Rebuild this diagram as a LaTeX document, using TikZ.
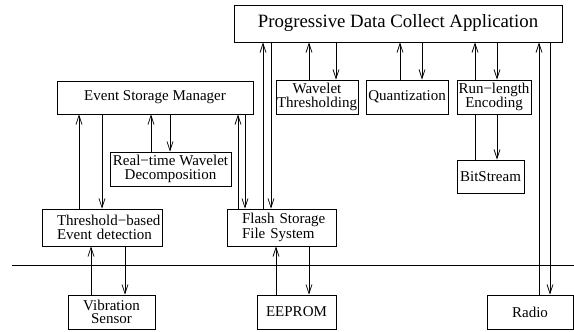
\documentclass[tikz,border=0pt]{standalone}
\usepackage{fontspec}
\setmainfont{Liberation Serif}
\usetikzlibrary{arrows.meta}
\begin{document}
\begin{tikzpicture}[x=1pt,y=-1pt,
  line width=0.75pt,
  >={Straight Barb[length=9pt,width=6pt]},
  arr/.style={->},
  box/.style={draw, rectangle, inner sep=0pt, align=center,
    font={\fontsize{15pt}{13.5pt}\selectfont}},
  lbox/.style={box, align=left, inner xsep=15pt},
  titlebox/.style={box, font={\fontsize{18.8pt}{20pt}\selectfont}}]
\useasboundingbox (0,0) rectangle (574,332);

% boxes
\node[titlebox, minimum width=328pt, minimum height=37pt] (app) at (398,23.5) {Progressive Data Collect Application};
\node[box, minimum width=196pt, minimum height=33pt] (esm) at (155,97.5) {Event Storage Manager};
\node[box, minimum width=121pt, minimum height=34pt] (rtwd) at (170.5,169) {Real−time Wavelet\\Decomposition};
\node[lbox, text width=90pt, minimum height=37pt] (thr) at (102,227.5) {\mbox{Threshold−based}\\\mbox{Event detection}};
\node[lbox, text width=79pt, minimum height=37pt] (fs) at (281.5,227.5) {\mbox{Flash Storage}\\\mbox{File System}};
\node[box, minimum width=82pt, minimum height=34pt] (wt) at (317,97) {Wavelet\\Thresholding};
\node[box, minimum width=82pt, minimum height=34pt] (qz) at (407,97) {Quantization};
\node[box, minimum width=74pt, minimum height=34pt] (rle) at (494,97) {Run−length\\Encoding};
\node[box, minimum width=67pt, minimum height=33pt] (bs) at (490.5,176.5) {BitStream};
\node[box, minimum width=87pt, minimum height=34pt] (vs) at (111.5,312) {Vibration\\Sensor};
\node[box, minimum width=79pt, minimum height=34pt] (ee) at (296.5,312) {EEPROM};
\node[box, minimum width=86pt, minimum height=34pt] (radio) at (530,312) {Radio};

% separator line
\coordinate (hl) at (12,265);
\coordinate (hr) at (574,265);
\draw (hl) -- (hr);

% connectors
\draw[arr] (thr.north -| 79,0) -- (esm.south -| 79,0);
\draw[arr] (esm.south -| 102,0) -- (thr.north -| 102,0);
\draw[arr] (rtwd.north -| 151,0) -- (esm.south -| 151,0);
\draw[arr] (esm.south -| 170,0) -- (rtwd.north -| 170,0);
\draw[arr] (fs.north -| 238,0) -- (esm.south -| 238,0);
\draw[arr] (esm.south -| 245,0) -- (fs.north -| 245,0);
\draw[arr] (fs.north -| 263,0) -- (app.south -| 263,0);
\draw[arr] (app.south -| 271,0) -- (fs.north -| 271,0);
\draw[arr] (wt.north -| 309,0) -- (app.south -| 309,0);
\draw[arr] (app.south -| 336,0) -- (wt.north -| 336,0);
\draw[arr] (qz.north -| 400,0) -- (app.south -| 400,0);
\draw[arr] (app.south -| 422,0) -- (qz.north -| 422,0);
\draw[arr] (rle.north -| 475,0) -- (app.south -| 475,0);
\draw[arr] (app.south -| 497,0) -- (rle.north -| 497,0);
\draw (bs.north -| 475,0) -- (rle.south -| 475,0);
\draw[arr] (rle.south -| 497,0) -- (bs.north -| 497,0);
\draw[arr] (radio.north -| 539,0) -- (app.south -| 539,0);
\draw[arr] (app.south -| 550,0) -- (radio.north -| 550,0);
\draw[arr] (vs.north -| 91,0) -- (thr.south -| 91,0);
\draw[arr] (thr.south -| 125,0) -- (vs.north -| 125,0);
\draw[arr] (ee.north -| 276,0) -- (fs.south -| 276,0);
\draw[arr] (fs.south -| 309,0) -- (ee.north -| 309,0);
\end{tikzpicture}
\end{document}
